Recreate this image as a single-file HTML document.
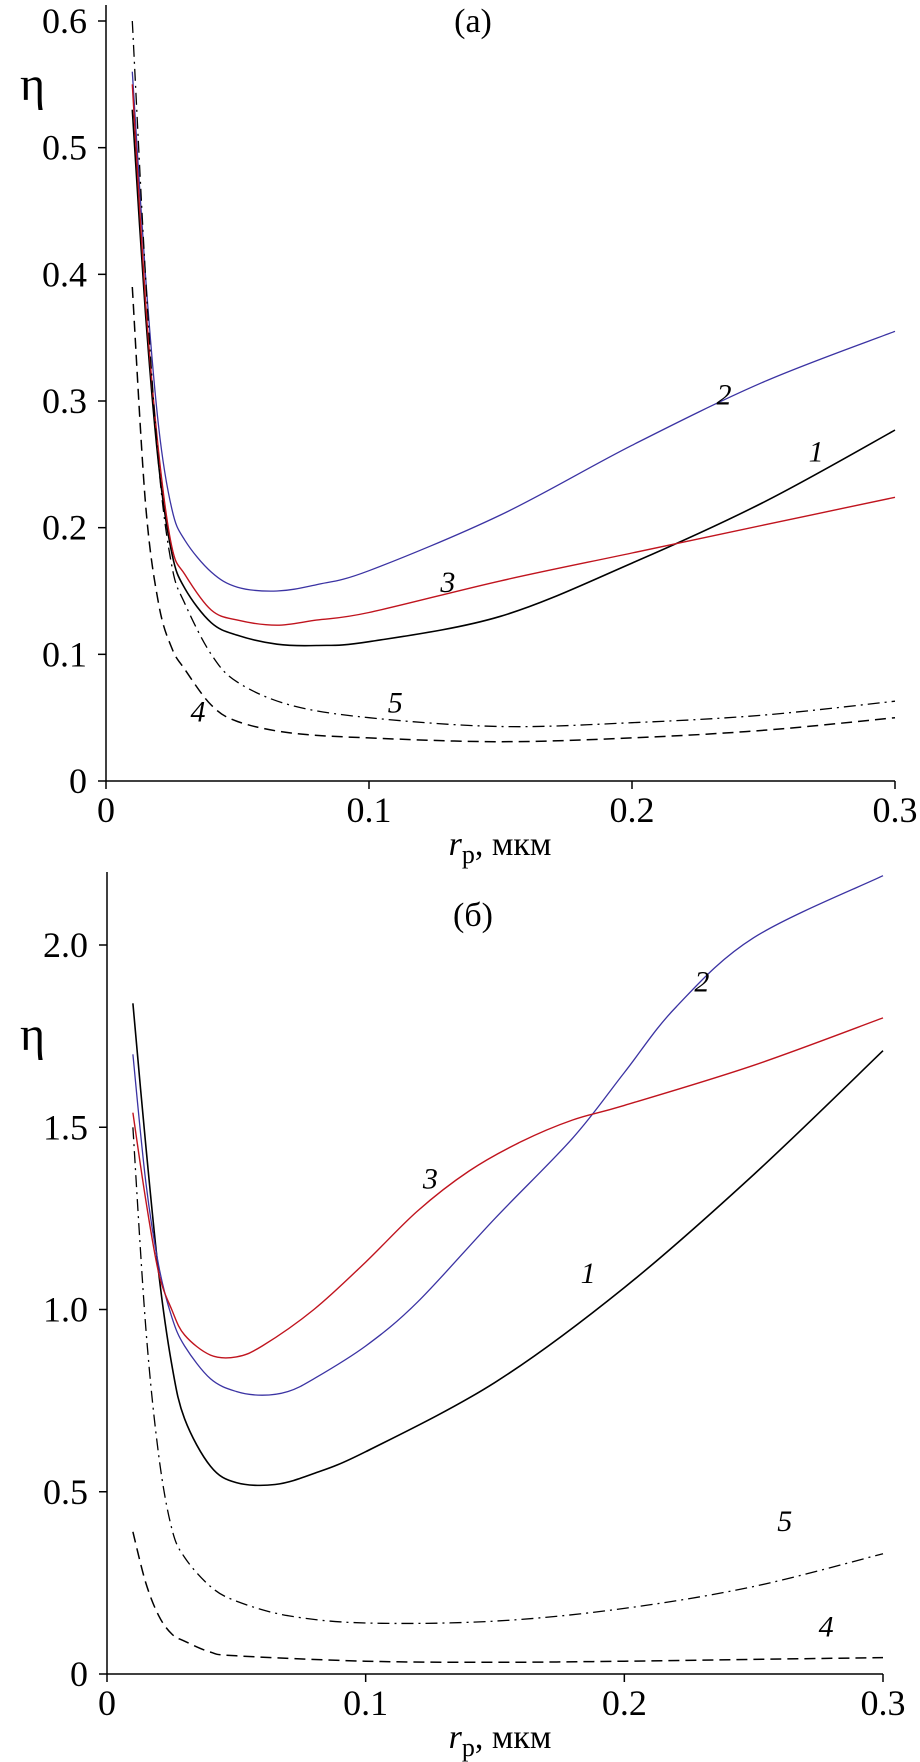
<!DOCTYPE html>
<html><head><meta charset="utf-8">
<style>
html,body{margin:0;padding:0;background:#fff;}
svg{display:block;font-family:"Liberation Serif",serif;}
</style></head>
<body>
<svg id="chart" width="920" height="1762" viewBox="0 0 920 1762" xmlns="http://www.w3.org/2000/svg"></svg>
<script>
// Panel (a) data
const xA1 = [0.01,0.015,0.02,0.025,0.03,0.04,0.05,0.065,0.08,0.1,0.15,0.2,0.25,0.3];
const yA1 = [0.53,0.37,0.25,0.18,0.152,0.125,0.115,0.108,0.107,0.11,0.13,0.172,0.22,0.277];
const xA2 = [0.01,0.015,0.02,0.025,0.03,0.04,0.05,0.065,0.08,0.1,0.15,0.2,0.25,0.3];
const yA2 = [0.56,0.4,0.28,0.215,0.19,0.165,0.153,0.15,0.155,0.166,0.21,0.265,0.315,0.355];
const xA3 = [0.01,0.015,0.02,0.025,0.03,0.04,0.05,0.065,0.08,0.1,0.15,0.2,0.25,0.3];
const yA3 = [0.55,0.38,0.26,0.185,0.163,0.135,0.127,0.123,0.127,0.133,0.158,0.18,0.202,0.224];
const xA4 = [0.01,0.015,0.02,0.025,0.03,0.04,0.05,0.07,0.1,0.15,0.2,0.25,0.3];
const yA4 = [0.39,0.22,0.14,0.105,0.088,0.06,0.047,0.038,0.034,0.031,0.034,0.04,0.05];
const xA5 = [0.01,0.015,0.02,0.025,0.03,0.04,0.05,0.07,0.1,0.15,0.2,0.25,0.3];
const yA5 = [0.6,0.4,0.25,0.17,0.14,0.1,0.078,0.06,0.05,0.043,0.046,0.052,0.063];
const yTicksA = [0,0.1,0.2,0.3,0.4,0.5,0.6];
const yTickLabelsA = ["0","0.1","0.2","0.3","0.4","0.5","0.6"];
// Panel (b) data
const xB1 = [0.01,0.015,0.02,0.025,0.03,0.04,0.05,0.065,0.08,0.1,0.15,0.2,0.25,0.3];
const yB1 = [1.84,1.45,1.1,0.85,0.7,0.57,0.525,0.52,0.55,0.61,0.8,1.06,1.37,1.71];
const xB2 = [0.01,0.015,0.02,0.025,0.03,0.04,0.05,0.06,0.07,0.08,0.1,0.12,0.15,0.18,0.2,0.22,0.25,0.3];
const yB2 = [1.7,1.35,1.12,0.98,0.9,0.81,0.775,0.765,0.775,0.81,0.9,1.02,1.25,1.47,1.65,1.83,2.02,2.19];
const xB3 = [0.01,0.015,0.02,0.025,0.03,0.04,0.05,0.06,0.08,0.1,0.12,0.14,0.16,0.18,0.2,0.25,0.3];
const yB3 = [1.54,1.3,1.1,1.0,0.93,0.875,0.87,0.9,1.0,1.13,1.27,1.38,1.46,1.52,1.56,1.67,1.8];
const xB4 = [0.01,0.015,0.02,0.025,0.03,0.04,0.05,0.1,0.15,0.2,0.25,0.3];
const yB4 = [0.39,0.25,0.16,0.11,0.09,0.06,0.05,0.035,0.032,0.035,0.04,0.045];
const xB5 = [0.01,0.015,0.02,0.025,0.03,0.04,0.05,0.07,0.1,0.15,0.2,0.25,0.3];
const yB5 = [1.5,0.95,0.6,0.4,0.32,0.24,0.2,0.16,0.14,0.145,0.18,0.24,0.33];
const yTicksB = [0,0.5,1.0,1.5,2.0];
const yTickLabelsB = ["0","0.5","1.0","1.5","2.0"];
const xTicks = [0,0.1,0.2,0.3];
const xTickLabels = ["0","0.1","0.2","0.3"];

const NS = "http://www.w3.org/2000/svg";
const svg = document.getElementById('chart');
function mk(tag, attrs, parent){
  const e = document.createElementNS(NS, tag);
  for (const k in attrs) e.setAttribute(k, attrs[k]);
  (parent||svg).appendChild(e);
  return e;
}
function smoothPath(pts){
  let d = "M"+pts[0][0].toFixed(1)+","+pts[0][1].toFixed(1);
  for (let i=0;i<pts.length-1;i++){
    const p0=pts[Math.max(0,i-1)], p1=pts[i], p2=pts[i+1], p3=pts[Math.min(pts.length-1,i+2)];
    const c1x=p1[0]+(p2[0]-p0[0])/6, c1y=p1[1]+(p2[1]-p0[1])/6;
    const c2x=p2[0]-(p3[0]-p1[0])/6, c2y=p2[1]-(p3[1]-p1[1])/6;
    d+=" C"+c1x.toFixed(1)+","+c1y.toFixed(1)+" "+c2x.toFixed(1)+","+c2y.toFixed(1)+" "+p2[0].toFixed(1)+","+p2[1].toFixed(1);
  }
  return d;
}
function panel(cfg){
  const g = mk('g', {});
  
  
  const sx = v => cfg.x0 + v/0.3*(cfg.x1-cfg.x0);
  const sy = v => cfg.y0 - v/cfg.ymax*(cfg.y0-cfg.ymaxPx);
  const ya = mk('line',{x1:cfg.x0,y1:cfg.top,x2:cfg.x0,y2:cfg.y0,stroke:'#000','stroke-width':1.5},g);
  
  
  const xa = mk('line',{x1:cfg.x0,y1:cfg.y0,x2:cfg.x1,y2:cfg.y0,stroke:'#000','stroke-width':1.5},g);
  
  
  cfg.yTicks.forEach((v,i)=>{
    const y=sy(v);
    const t=mk('line',{x1:cfg.x0-8,y1:y,x2:cfg.x0,y2:y,stroke:'#000','stroke-width':1.5},g);
    
    
    const l=mk('text',{x:cfg.x0-19,y:y+12,'text-anchor':'end','font-size':36},g);
    
    
    l.textContent=cfg.yLabels[i];
  });
  xTicks.forEach((v,i)=>{
    const x=sx(v);
    const t=mk('line',{x1:x,y1:cfg.y0,x2:x,y2:cfg.y0+8,stroke:'#000','stroke-width':1.5},g);
    
    
    const l=mk('text',{x:x,y:cfg.y0+41,'text-anchor':'middle','font-size':36},g);
    
    
    l.textContent=xTickLabels[i];
  });
  const xt = mk('text',{x:500,y:cfg.y0+74,'text-anchor':'middle','font-size':34},g);
  
  
  xt.innerHTML='<tspan font-style="italic">r</tspan><tspan font-size="26" dy="8">p</tspan><tspan dy="-8">, мкм</tspan>';
  const yt = mk('text',{x:20,y:cfg.etaY,'font-size':48},g);
  
  
  yt.textContent='η';
  const ttl = mk('text',{x:473,y:cfg.titleY,'text-anchor':'middle','font-size':34},g);
  
  
  ttl.textContent=cfg.title;
  cfg.series.forEach(s=>{
    const pts = s.x.map((xv,i)=>[sx(xv), sy(s.y[i])]);
    const attrs={d:smoothPath(pts),fill:'none',stroke:s.color,'stroke-width':s.w};
    if (s.dash) attrs['stroke-dasharray']=s.dash;
    const p=mk('path',attrs,g);
    
    
    const lb=mk('text',{x:sx(s.lx),y:sy(s.ly)+10,'text-anchor':'middle','font-size':30,'font-style':'italic'},g);
    
    
    lb.textContent=s.id;
  });
}
panel({name:'panel-a',title:'(a)',titleY:32,x0:106,x1:895,y0:781,ymax:0.6,ymaxPx:21,top:5,etaY:100,
  yTicks:yTicksA,yLabels:yTickLabelsA,
  series:[
    {id:'1',x:xA1,y:yA1,color:'#000',w:1.6,lx:0.27,ly:0.26},
    {id:'2',x:xA2,y:yA2,color:'#3b33a3',w:1.3,lx:0.235,ly:0.305},
    {id:'3',x:xA3,y:yA3,color:'#c0141e',w:1.4,lx:0.13,ly:0.157},
    {id:'4',x:xA4,y:yA4,color:'#000',w:1.5,dash:'11,6',lx:0.035,ly:0.055},
    {id:'5',x:xA5,y:yA5,color:'#000',w:1.3,dash:'12,5,2,5',lx:0.11,ly:0.062}
  ]});
panel({name:'panel-b',title:'(б)',titleY:926,x0:107,x1:883,y0:1674,ymax:2.0,ymaxPx:945,top:872,etaY:1050,
  yTicks:yTicksB,yLabels:yTickLabelsB,
  series:[
    {id:'1',x:xB1,y:yB1,color:'#000',w:1.6,lx:0.186,ly:1.1},
    {id:'2',x:xB2,y:yB2,color:'#3b33a3',w:1.3,lx:0.23,ly:1.9},
    {id:'3',x:xB3,y:yB3,color:'#c0141e',w:1.4,lx:0.125,ly:1.36},
    {id:'4',x:xB4,y:yB4,color:'#000',w:1.5,dash:'11,6',lx:0.278,ly:0.13},
    {id:'5',x:xB5,y:yB5,color:'#000',w:1.3,dash:'12,5,2,5',lx:0.262,ly:0.42}
  ]});
</script>
</body></html>
